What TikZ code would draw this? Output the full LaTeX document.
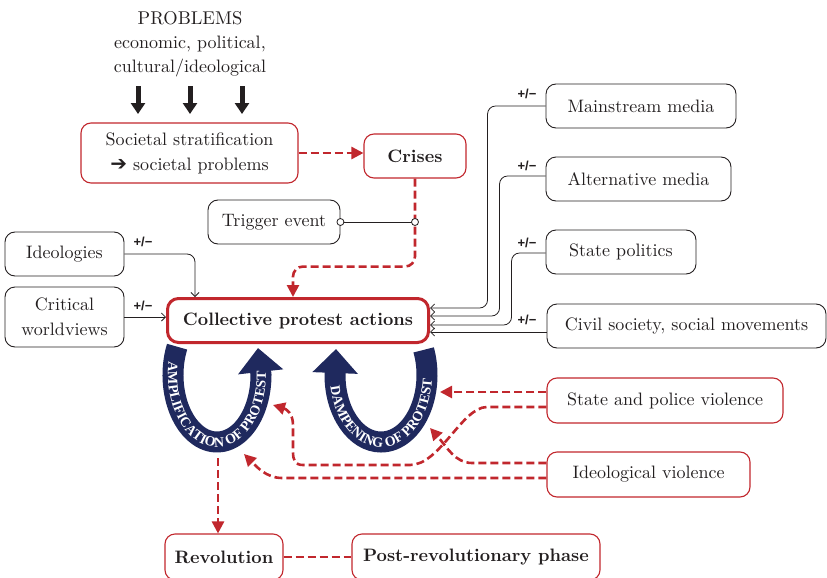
\documentclass[tikz,border=0pt]{standalone}
\usepackage{fontspec}
\setmainfont{lmroman10-regular}[Extension=.otf, BoldFont=lmroman10-bold, ItalicFont=lmroman10-italic]
\newfontfamily\pmfont{Liberation Sans}
\newfontfamily\symfont{DejaVu Sans}
\newfontfamily\bandfont{Liberation Serif}
\usetikzlibrary{arrows.meta,decorations.text,calc}
\definecolor{myred}{RGB}{193,39,45}
\definecolor{navy}{RGB}{31,41,94}
\definecolor{ink}{RGB}{35,31,32}
\begin{document}
\begin{tikzpicture}[x=1pt,y=1pt,
  every node/.style={font=\fontsize{18}{25}\selectfont, text=ink},
  box/.style={draw=ink, line width=0.9pt, rounded corners=10pt, inner sep=0pt, align=center},
  rbox/.style={box, draw=myred, line width=1.1pt},
  cbox/.style={box, draw=myred, line width=3pt, rounded corners=11pt},
  bold/.style={font=\fontsize{18}{22}\selectfont\bfseries},
  conn/.style={draw=ink, line width=0.8pt, rounded corners=8pt, -{Straight Barb[length=4pt,width=8pt]}},
  rdash/.style={draw=myred, line width=2.6pt, dash pattern=on 8pt off 4pt},
  rarrow/.style={rdash, -{Triangle[length=12pt,width=12pt]}},
  pm/.style={font=\pmfont\bfseries\fontsize{13}{13}\selectfont},
  band/.style={draw=navy, line width=21pt},
  bigarrow/.style={draw=ink, line width=5pt, -{Triangle[length=11pt,width=14pt]}},
  bandtext/.style={decorate, decoration={text along path, text align=center, text color=white, text={|\bandfont\bfseries\fontsize{14}{14}\selectfont|#1}}}
]
\useasboundingbox (0,0) rectangle (827,-578);

% top problems
\node[font=\fontsize{18.5}{22}\selectfont] (problems) at (190,-18) {PROBLEMS};
\node (prob2) at (190,-44) {economic, political,};
\node (prob3) at (190,-68) {cultural/ideological};
\foreach \i/\x in {1/138,2/190,3/242}{
  \coordinate (pa\i) at (\x,-86);
  \coordinate (pb\i) at (\x,-114);
  \draw[bigarrow] (pa\i) -- (pb\i);
}

% boxes
\node[rbox, minimum width=217pt, minimum height=60pt] (soc) at (189.5,-153) {Societal stratification\\{\symfont\bfseries\fontsize{20}{20}\selectfont ➔} societal problems};
\node[rbox, bold, minimum width=102pt, minimum height=44pt] (crises) at (415,-156) {Crises};
\node[box, minimum width=132pt, minimum height=44pt] (trigger) at (274,-222) {Trigger event};
\node[box, minimum width=119pt, minimum height=44pt] (ideol) at (64.5,-254) {Ideologies};
\node[box, minimum width=119pt, minimum height=60pt] (crit) at (64.5,-317) {Critical\\worldviews};
\node[cbox, bold, minimum width=261pt, minimum height=44pt] (coll) at (298,-320.5) {Collective protest actions};

\node[box, minimum width=190pt, minimum height=44pt] (mainstream) at (641,-106) {Mainstream media};
\node[box, minimum width=185pt, minimum height=44pt] (alternative) at (638.5,-179) {Alternative media};
\node[box, minimum width=150pt, minimum height=44pt] (statepol) at (621,-252) {State politics};
\node[box, minimum width=279pt, minimum height=44pt] (civil) at (686.5,-326) {Civil society, social movements};

\node[rbox, minimum width=236pt, minimum height=45pt] (statepolice) at (665,-400.5) {State and police violence};
\node[rbox, minimum width=203pt, minimum height=45pt] (ideoviol) at (648.5,-474.5) {Ideological violence};

\node[rbox, bold, minimum width=118pt, minimum height=46pt] (revolution) at (224,-557) {Revolution};
\node[rbox, bold, minimum width=248pt, minimum height=46pt] (post) at (476,-557) {Post-revolutionary phase};

% black connectors
\draw[conn] (ideol.east) -| ([xshift=-103pt]coll.north);
\draw[conn] (crit.east) -- (crit.east -| coll.west);
\draw[conn] (mainstream.west) -- ++(-58,0) |- ([yshift=12.5pt]coll.east);
\draw[conn] ([yshift=3pt]alternative.west) -- ++(-46,0) |- ([yshift=4.5pt]coll.east);
\draw[conn] ([yshift=-1pt]statepol.west) -- ++(-34,0) |- ([yshift=-4.5pt]coll.east);
\draw[conn] ([yshift=-6pt]civil.west) -- ([yshift=-11.5pt]coll.east);

\node[pm] at (143,-242) {+/−};
\node[pm] at (143,-306) {+/−};
\node[pm] at (527,-94) {+/−};
\node[pm] at (527,-166) {+/−};
\node[pm] at (527,-243) {+/−};
\node[pm] at (527,-320) {+/−};

% bands
\draw[band, -{Triangle[length=24pt,width=44pt]}] ($(217,-375)+(155:44 and 67)$) arc[start angle=155, end angle=360, x radius=44, y radius=67] -- (258,-348);
\path[bandtext={AMPLIFICATION OF PROTEST}] ($(217,-375)+(160:49 and 72)$) arc[start angle=160, end angle=372, x radius=49, y radius=72];

\draw[band, {Triangle[length=24pt,width=44pt]}-] (336,-349) -- ($(381,-375)+(180:46 and 67)$) arc[start angle=180, end angle=382, x radius=46, y radius=67];
\path[bandtext={DAMPENING OF PROTEST}] ($(381,-375)+(176:51 and 72)$) arc[start angle=176, end angle=370, x radius=51, y radius=72];

% red dashed
\draw[rarrow] (soc.east) -- (soc.east -| crises.west);
\coordinate (tj) at (crises.south |- trigger.east);
\draw[rarrow, rounded corners=10pt] (crises.south) -- ++(0,-88) -| ([xshift=-5pt]coll.north);
\draw[ink, line width=0.8pt] (trigger.east) -- (tj);
\draw[ink, line width=0.8pt, fill=white] (trigger.east) circle (3.5pt);
\draw[ink, line width=0.8pt, fill=white] (tj) circle (3.5pt);

\coordinate (ampbot) at (218,-458);
\draw[rarrow] (ampbot) -- (ampbot |- revolution.north);
\draw[rdash] (revolution.east) -- (post.west);

\coordinate (dv1) at (440,-392);
\coordinate (av1) at (273,-405);
\coordinate (dv2) at (430,-428);
\coordinate (av2) at (244,-454);
\draw[rarrow] ([yshift=8.5pt]statepolice.west) -- (dv1);
\draw[rarrow] ([yshift=-6.5pt]statepolice.west) -- (487,-407) .. controls (462,-407) and (440,-465) .. (410,-465) -- (303,-465) .. controls (295,-465) and (293,-460) .. (293,-452) -- (293,-425) .. controls (293,-413) and (286,-409) .. (av1);
\draw[rarrow] ([yshift=11.5pt]ideoviol.west) -- (472,-463) .. controls (455,-463) and (447,-447) .. (dv2);
\draw[rarrow] ([yshift=-3.5pt]ideoviol.west) -- (282,-478) .. controls (266,-478) and (256,-466) .. (av2);
\end{tikzpicture}
\end{document}
